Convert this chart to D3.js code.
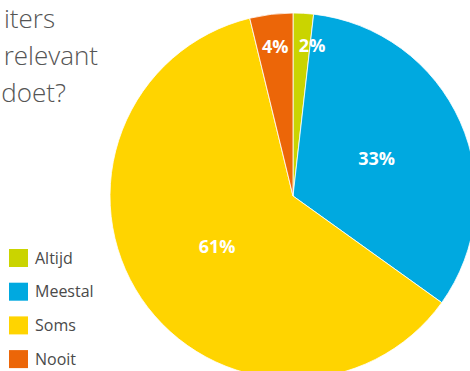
<!DOCTYPE html>
<html>
<head>
<meta charset="utf-8">
<script src="https://cdn.jsdelivr.net/npm/d3@7"></script>
<style>
  html, body { margin: 0; padding: 0; background: #fff; }
  svg { display: block; font-family: "Open Sans", sans-serif; }
</style>
</head>
<body>
<svg id="chart" width="470" height="371"></svg>
<script>
// data
var categories = ["Altijd", "Meestal", "Soms", "Nooit"];
var values = [1.8, 33.1, 61.3, 3.8];
var labels = ["2%", "33%", "61%", "4%"];
var colors = ["#cad400", "#00a9e0", "#ffd400", "#ec6608"];
var titleLines = ["iters", "relevant", "doet?"];

var svg = d3.select("#chart");
var cx = 293, cy = 196, radius = 183;

// title, cut off at the left like the original
svg.append("g").selectAll("text")
    .data(titleLines)
    .join("text")
    .attr("x", function(d, i) { return [55, 98, 66][i]; })
    .attr("y", function(d, i) { return 28 + i * 37; })
    .attr("text-anchor", "end")
    .attr("font-size", 26)
    .attr("font-weight", 300)
    .attr("fill", "#555")
    .text(function(d) { return d; });

var pie = d3.pie().sort(null).value(function(d) { return d; });
var arcs = pie(values);
var arc = d3.arc().innerRadius(0).outerRadius(radius);

var g = svg.append("g").attr("transform", "translate(" + cx + "," + cy + ")");
g.selectAll("path")
    .data(arcs)
    .join("path")
    .attr("d", arc)
    .attr("fill", function(d, i) { return colors[i]; })
    .attr("stroke", "#fff")
    .attr("stroke-width", 0.8);

// label positions: big slices at the centroid, small ones near the rim
var pos = arcs.map(function(d, i) {
    var frac = (d.endAngle - d.startAngle) / (2 * Math.PI);
    var r = frac < 0.1 ? radius * 0.82 : radius * 0.5;
    var a = (d.startAngle + d.endAngle) / 2;
    return { i: i, x: Math.sin(a) * r, y: -Math.cos(a) * r };
});
// push apart labels that would overlap
var minGap = 37;
var small = pos.filter(function(p) { return p.y < -radius * 0.6; })
    .sort(function(a, b) { return a.x - b.x; });
for (var k = 1; k < small.length; k++) {
    if (small[k].x - small[k - 1].x < minGap) small[k].x = small[k - 1].x + minGap;
}

g.selectAll("text.lbl")
    .data(pos)
    .join("text")
    .attr("class", "lbl")
    .attr("x", function(p) { return p.x; })
    .attr("y", function(p) { return p.y; })
    .attr("dy", "0.35em")
    .attr("text-anchor", "middle")
    .attr("font-size", 18)
    .attr("font-weight", 700)
    .attr("fill", "#fff")
    .text(function(p) { return labels[p.i]; });

// legend
var legend = svg.append("g").selectAll("g")
    .data(categories)
    .join("g")
    .attr("transform", function(d, i) { return "translate(9," + (249 + i * 33.7) + ")"; });
legend.append("rect")
    .attr("width", 19).attr("height", 18)
    .attr("fill", function(d, i) { return colors[i]; });
legend.append("text")
    .attr("x", 26).attr("y", 9)
    .attr("dy", "0.35em")
    .attr("font-size", 16)
    .attr("fill", "#4a4a4a")
    .text(function(d) { return d; });
</script>
</body>
</html>
